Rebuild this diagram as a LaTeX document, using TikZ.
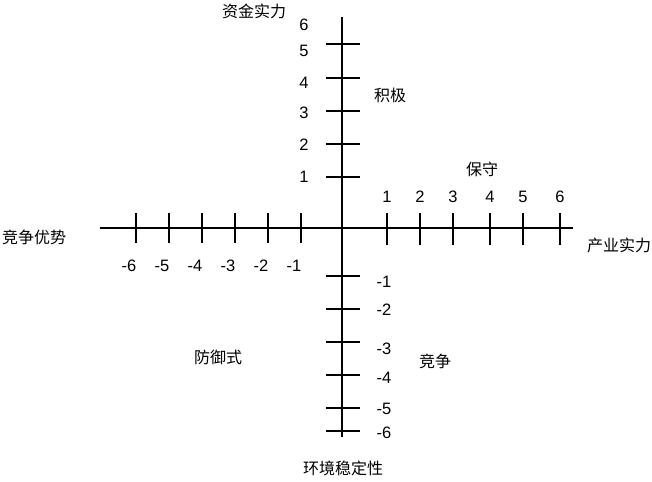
\documentclass[tikz,border=0pt]{standalone}
\usepackage{fontspec}
\setmainfont{Liberation Sans}
\newfontfamily\cjk{Noto Sans CJK SC}
\usepackage{tikz}
\usetikzlibrary{positioning}

\tikzset{
	axis/.style={line width=1.8pt},
	tick/.style={line width=1.8pt},
	num/.style={inner sep=0pt,font=\fontsize{16.5}{18}\selectfont},
	cjklabel/.style={inner sep=0pt,font=\cjk\fontsize{16}{18}\selectfont}
}

\begin{document}
\begin{tikzpicture}[x=1pt,y=-1pt]
	\useasboundingbox (0,0) rectangle (652,481);

	\coordinate (O) at (342,228);
	\coordinate (xl) at (100,228);
	\coordinate (xr) at (573,228);
	\coordinate (yt) at (342,17);
	\coordinate (yb) at (342,437);
	\draw[axis] (xl) -- (xr);
	\draw[axis] (yt) -- (yb);

	% ticks on the horizontal axis
	\foreach \x/\l in {136/-6,169/-5,202/-4,235/-3,268/-2,301/-1}{
		\draw[tick] (\x,213) -- (\x,243);
		\node[num] at (\x-7,266) {\l};
	}
	\foreach \x/\l in {387/1,420/2,453/3,490/4,523/5,560/6}{
		\draw[tick] (\x,213) -- (\x,245);
		\node[num] at (\x,197) {\l};
	}

	% ticks on the vertical axis
	\foreach \y/\ly/\l in {177/177/1,144/145/2,111/113/3,78/83/4,44/51/5}{
		\draw[tick] (326,\y) -- (360,\y);
		\node[num] at (304,\ly) {\l};
	}
	\node[num] (six) at (304,25) {6};
	\foreach \y/\ly/\l in {276/282/-1,309/310/-2,342/349/-3,375/378/-4,408/409/-5,431/433/-6}{
		\draw[tick] (326,\y) -- (360,\y);
		\node[num] at (384,\ly) {\l};
	}

	\node[cjklabel] (zijin) at (254,11) {资金实力};
	\node[cjklabel] (chanye) at (619,245) {产业实力};
	\node[cjklabel] (jingzheng) at (34,237) {竞争优势};
	\node[cjklabel] (huanjing) at (343,468) {环境稳定性};

	\node[cjklabel] (jiji) at (390,95) {积极};
	\node[cjklabel] (baoshou) at (482,169) {保守};
	\node[cjklabel] (fangyu) at (218,357) {防御式};
	\node[cjklabel] (jz) at (435,361) {竞争};
\end{tikzpicture}
\end{document}
